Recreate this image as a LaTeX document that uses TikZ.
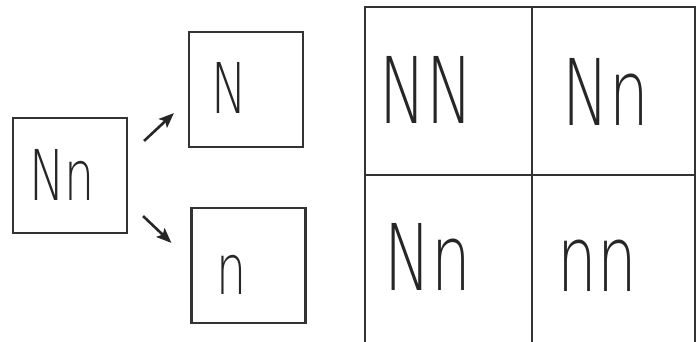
\documentclass[tikz,border=0pt]{standalone}
\usepackage{fontspec}
\setmainfont{Liberation Sans}
\newfontfamily\handfont{DejaVuSans-ExtraLight.ttf}
\usetikzlibrary{arrows.meta}

\tikzset{
  box/.style={draw=black!80, line width=2.2pt, minimum width=114pt, minimum height=115pt, inner sep=0pt},
  hand/.style={text=black!85, font=\handfont\fontsize{70}{70}\selectfont, inner sep=0pt},
  big/.style={text=black!85, font=\handfont\fontsize{92}{92}\selectfont, inner sep=0pt},
  arr/.style={-{Stealth[length=15pt,width=12pt,inset=3pt]}, line width=2.6pt, black!85},
  grid/.style={draw=black!80, line width=2.2pt},
}
\newcommand{\narrow}[1]{\scalebox{0.68}[1]{#1}}

\begin{document}
\begin{tikzpicture}[x=1pt,y=-1pt]
    \clip (0,0) rectangle (697,341);

    % parent and its two gametes
    \node[box] (par) at (70,175.5) {};
    \node[hand] (parl) at (62,175) {\narrow{Nn}};
    \node[box] (gN) at (246,89.5) {};
    \node[hand] (gNl) at (229,88) {\narrow{N}};
    \node[box] (gn) at (248.5,265.5) {};
    \node[hand] (gnl) at (232,275) {\narrow{n}};

    \draw[arr] ([shift={(16,24)}]par.north east) -- ([shift={(-14,-35)}]gN.south west);
    \draw[arr] ([shift={(15,-18)}]par.south east) -- ([shift={(-19,36)}]gn.north west);

    % Punnett square
    \draw[grid] (365,345) -- (365,7) -- (695,7) -- (695,345);
    \draw[grid] (532,7) -- (532,345);
    \draw[grid] (365,175) -- (695,175);

    \node[big] (c11) at (426,90) {\narrow{NN}};
    \node[big] (c12) at (606,92) {\narrow{Nn}};
    \node[big] (c21) at (428,257) {\narrow{Nn}};
    \node[big] (c22) at (597,266) {\narrow{nn}};
\end{tikzpicture}
\end{document}
